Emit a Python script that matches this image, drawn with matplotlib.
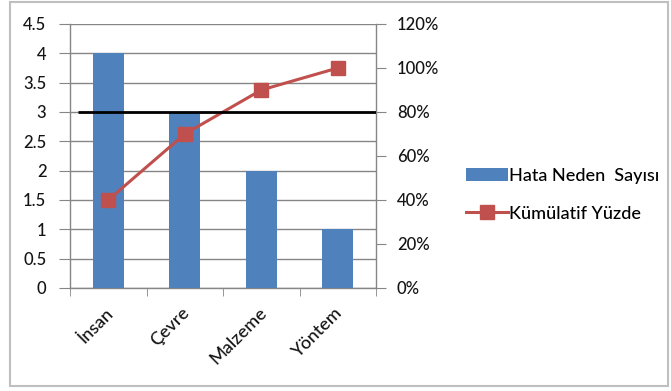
import matplotlib
matplotlib.use("Agg")
import matplotlib.pyplot as plt
from matplotlib.patches import Rectangle
from matplotlib.lines import Line2D
from matplotlib.patches import Patch
from matplotlib.ticker import FuncFormatter
import matplotlib.transforms as mtransforms

categories = ["İnsan", "Çevre", "Malzeme", "Yöntem"]
counts = [4, 3, 2, 1]
cumulative_pct = [40, 70, 90, 100]
threshold_pct = 80

plt.rcParams['font.family'] = ['Lato', 'DejaVu Sans']
plt.rcParams['font.weight'] = 'medium'

W, H = 671, 391
fig = plt.figure(figsize=(W / 100, H / 100), dpi=100)
fig.patches.append(Rectangle((10 / W, 5 / H), 658 / W, 384 / H, transform=fig.transFigure,
                             fill=False, edgecolor='#BFBFBF', linewidth=1.5))

ax = fig.add_axes([70 / W, 1 - 288 / H, 306 / W, 264 / H])
ax2 = ax.twinx()

x = list(range(len(categories)))
blue = '#4F81BD'
red = '#C0504D'
grid_c = '#868686'
txt_c = '#141414'

ax.bar(x, counts, width=0.4, color=blue, zorder=3)
ax.set_xlim(-0.5, len(categories) - 0.5)
ax.set_ylim(0, 4.5)
ax.set_yticks([i * 0.5 for i in range(10)])
ax.yaxis.set_major_formatter(FuncFormatter(lambda v, p: f"{v:g}"))
ax.grid(axis='y', color=grid_c, linewidth=1, zorder=0)
ax.set_axisbelow(True)

ax.set_xticks(x)
ax.set_xticklabels(categories, rotation=45, ha='right', rotation_mode='anchor', fontsize=13, color=txt_c)
ax.tick_params(axis='x', length=0, pad=12)
offset = mtransforms.ScaledTranslation(-3 / 100, 0, fig.dpi_scale_trans)
for lbl in ax.get_xticklabels():
    lbl.set_transform(lbl.get_transform() + offset)
ax.set_xticks([i - 0.5 for i in range(len(categories) + 1)], minor=True)
ax.tick_params(axis='x', which='minor', length=6, color=grid_c, direction='out')
ax.tick_params(axis='y', length=8, color=grid_c, labelsize=12, labelcolor=txt_c, pad=9)

ax2.set_ylim(0, 120)
ax2.set_yticks(range(0, 121, 20))
ax2.yaxis.set_major_formatter(FuncFormatter(lambda v, p: f"{v:.0f}%"))
ax2.tick_params(axis='y', length=7, color=grid_c, labelsize=12, labelcolor=txt_c, pad=8)

ax2.plot(x, cumulative_pct, color=red, linewidth=2.2, marker='s', markersize=10, zorder=5)
ax2.hlines(threshold_pct, -0.4, 3.95, color='black', linewidth=2, zorder=6)

for a in (ax, ax2):
    a.spines['top'].set_visible(False)
    for s in ('left', 'right', 'bottom'):
        a.spines[s].set_color(grid_c)
        a.spines[s].set_linewidth(1)
ax.spines['right'].set_visible(False)
ax2.spines['left'].set_visible(False)
ax2.spines['bottom'].set_visible(False)

handles = [Patch(facecolor=blue, edgecolor='none'),
           Line2D([0], [0], color=red, linewidth=2.2, marker='s', markersize=10)]
fig.legend(handles, ["Hata Neden  Sayısı", "Kümülatif Yüzde"], loc='center left',
           bbox_to_anchor=(457 / W, 1 - 195 / H), frameon=False, fontsize=13,
           handlelength=2.3, handleheight=0.75, handletextpad=0.1, labelspacing=1.2, borderpad=0)

fig.savefig("out.png", dpi=100)
